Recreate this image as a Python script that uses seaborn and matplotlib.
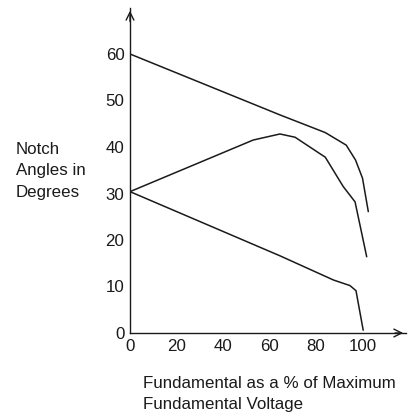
import matplotlib
matplotlib.use("Agg")
import matplotlib.pyplot as plt
import seaborn as sns
import pandas as pd

# Data
upper_x = [0, 64.5, 84, 93, 97, 100, 102.5]
upper_y = [60, 46.9, 43.1, 40.4, 37.2, 33.3, 26.1]
middle_x = [0, 53, 64.5, 71, 84, 91.7, 96.8, 101.8]
middle_y = [30.4, 41.5, 42.8, 42.1, 37.8, 31.5, 28.2, 16.4]
lower_x = [0, 64.5, 87.5, 94.6, 97.2, 100.3]
lower_y = [30.4, 16.6, 11.4, 10.2, 9.1, 0.6]
x_ticks = [0, 20, 40, 60, 80, 100]
y_ticks = [0, 10, 20, 30, 40, 50, 60]

frames = []
for name, xs, ys in [("upper", upper_x, upper_y), ("middle", middle_x, middle_y), ("lower", lower_x, lower_y)]:
    frames.append(pd.DataFrame({"x": xs, "y": ys, "curve": name}))
df = pd.concat(frames, ignore_index=True)

sns.set_style("white")
plt.rcParams['font.family'] = ['Liberation Sans', 'DejaVu Sans']

W, H = 409, 416
fig = plt.figure(figsize=(W / 100, H / 100), dpi=100)
ax_left, ax_right, ax_bottom, ax_top = 130, 406, 333, 8
ax = fig.add_axes([ax_left / W, (H - ax_bottom) / H, (ax_right - ax_left) / W, (ax_bottom - ax_top) / H])

sns.lineplot(data=df, x="x", y="y", units="curve", estimator=None, sort=False,
             color="#1a1a1a", linewidth=1.1, ax=ax, legend=False)

ax.set_xlim(0, (ax_right - ax_left) / 2.325)
ax.set_ylim(0, (ax_bottom - ax_top) / 4.65)
ax.set_xticks(x_ticks)
ax.set_yticks(y_ticks)
ax.tick_params(direction="in", length=3, width=1, colors="#1a1a1a", labelsize=12.2,
               pad=4, labelcolor="#1a1a1a")
for s in ["top", "right"]:
    ax.spines[s].set_visible(False)
for s in ["left", "bottom"]:
    ax.spines[s].set_color("#1a1a1a")
    ax.spines[s].set_linewidth(1.0)
ax.set_xlabel("")
ax.set_ylabel("")

# arrow heads
ax.annotate("", xy=(0, 1.0), xytext=(0, 0.95), xycoords="axes fraction",
            arrowprops=dict(arrowstyle="->", color="#1a1a1a", lw=1.0, mutation_scale=14),
            annotation_clip=False)
ax.annotate("", xy=(1.0, 0), xytext=(0.95, 0), xycoords="axes fraction",
            arrowprops=dict(arrowstyle="->", color="#1a1a1a", lw=1.0, mutation_scale=14),
            annotation_clip=False)

fig.text(16 / W, 1 - 171 / H, "Notch\nAngles in\nDegrees", ha="left", va="center",
         fontsize=12.2, color="#1a1a1a", linespacing=1.55)
fig.text(143 / W, 1 - 394 / H, "Fundamental as a % of Maximum\nFundamental Voltage",
         ha="left", va="center", fontsize=12.2, color="#1a1a1a", linespacing=1.5)

fig.savefig("out.png", dpi=100)
